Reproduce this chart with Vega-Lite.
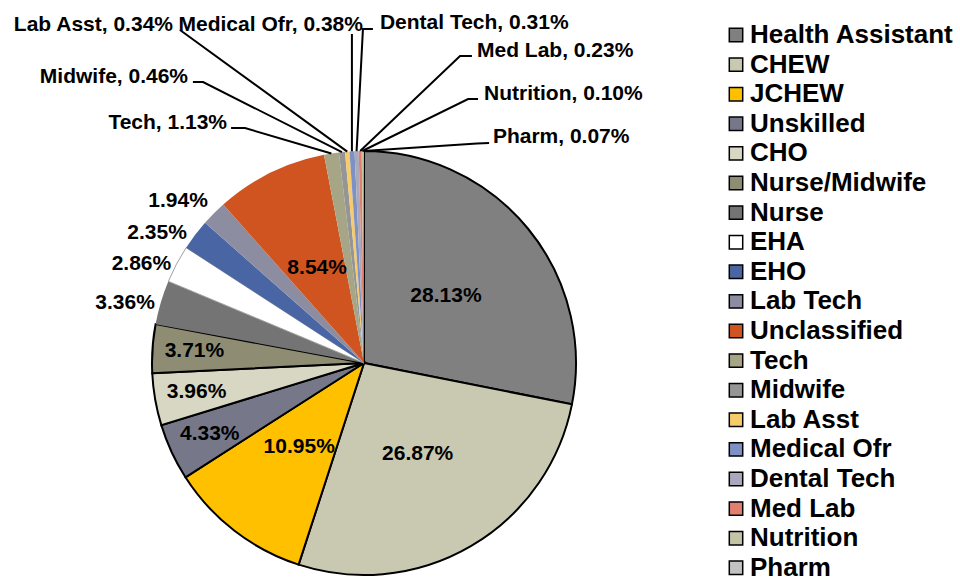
{
  "$schema": "https://vega.github.io/schema/vega-lite/v6.json",
  "width": 424,
  "height": 424,
  "autosize": {"type": "none"},
  "padding": {"left": 152, "top": 151, "right": 384, "bottom": 5},
  "background": "white",
  "config": {"view": {"stroke": null}, "font": "Liberation Sans"},
  "datasets": {
    "jobs": [
      {"idx": 1, "job": "Health Assistant", "share": 0.2813},
      {"idx": 2, "job": "CHEW", "share": 0.2687},
      {"idx": 3, "job": "JCHEW", "share": 0.1095},
      {"idx": 4, "job": "Unskilled", "share": 0.0433},
      {"idx": 5, "job": "CHO", "share": 0.0396},
      {"idx": 6, "job": "Nurse/Midwife", "share": 0.0371},
      {"idx": 7, "job": "Nurse", "share": 0.0336},
      {"idx": 8, "job": "EHA", "share": 0.0286},
      {"idx": 9, "job": "EHO", "share": 0.0235},
      {"idx": 10, "job": "Lab Tech", "share": 0.0194},
      {"idx": 11, "job": "Unclassified", "share": 0.0854},
      {"idx": 12, "job": "Tech", "share": 0.0113},
      {"idx": 13, "job": "Midwife", "share": 0.0046},
      {"idx": 14, "job": "Lab Asst", "share": 0.0034},
      {"idx": 15, "job": "Medical Ofr", "share": 0.0038},
      {"idx": 16, "job": "Dental Tech", "share": 0.0031},
      {"idx": 17, "job": "Med Lab", "share": 0.0023},
      {"idx": 18, "job": "Nutrition", "share": 0.0010},
      {"idx": 19, "job": "Pharm", "share": 0.0007}
    ],
    "outer": [
      {"job": "Nurse", "text": "3.36%", "u": -1.127, "v": 0.283},
      {"job": "EHA", "text": "2.86%", "u": -1.050, "v": 0.465},
      {"job": "EHO", "text": "2.35%", "u": -0.976, "v": 0.613},
      {"job": "Lab Tech", "text": "1.94%", "u": -0.877, "v": 0.764}
    ],
    "callouts": [
      {"job": "Lab Asst", "text": "Lab Asst, 0.34%", "u": -0.901, "v": 1.566},
      {"job": "Medical Ofr", "text": "Medical Ofr, 0.38%", "u": -0.005, "v": 1.566},
      {"job": "Midwife", "text": "Midwife, 0.46%", "u": -0.830, "v": 1.321},
      {"job": "Tech", "text": "Tech, 1.13%", "u": -0.646, "v": 1.104},
      {"job": "Dental Tech", "text": "Dental Tech, 0.31%", "u": 0.075, "v": 1.575},
      {"job": "Med Lab", "text": "Med Lab, 0.23%", "u": 0.533, "v": 1.443},
      {"job": "Nutrition", "text": "Nutrition, 0.10%", "u": 0.566, "v": 1.241},
      {"job": "Pharm", "text": "Pharm, 0.07%", "u": 0.608, "v": 1.038}
    ],
    "leaders": [
      {"job": "Lab Asst", "pt": 1, "u": -0.868, "v": 1.571},
      {"job": "Lab Asst", "pt": 2, "u": -0.079, "v": 0.997},
      {"job": "Medical Ofr", "pt": 1, "u": -0.057, "v": 1.552},
      {"job": "Medical Ofr", "pt": 2, "u": -0.057, "v": 0.998},
      {"job": "Dental Tech", "pt": 1, "u": 0.042, "v": 1.575},
      {"job": "Dental Tech", "pt": 2, "u": -0.005, "v": 1.575},
      {"job": "Dental Tech", "pt": 3, "u": -0.035, "v": 0.999},
      {"job": "Med Lab", "pt": 1, "u": 0.509, "v": 1.448},
      {"job": "Med Lab", "pt": 2, "u": 0.453, "v": 1.448},
      {"job": "Med Lab", "pt": 3, "u": -0.018, "v": 1.0},
      {"job": "Nutrition", "pt": 1, "u": 0.538, "v": 1.245},
      {"job": "Nutrition", "pt": 2, "u": 0.491, "v": 1.245},
      {"job": "Nutrition", "pt": 3, "u": -0.008, "v": 1.0},
      {"job": "Pharm", "pt": 1, "u": 0.590, "v": 1.038},
      {"job": "Pharm", "pt": 2, "u": 0.533, "v": 1.035},
      {"job": "Pharm", "pt": 3, "u": -0.002, "v": 1.0},
      {"job": "Midwife", "pt": 1, "u": -0.807, "v": 1.325},
      {"job": "Midwife", "pt": 2, "u": -0.759, "v": 1.325},
      {"job": "Midwife", "pt": 3, "u": -0.104, "v": 0.995},
      {"job": "Tech", "pt": 1, "u": -0.627, "v": 1.108},
      {"job": "Tech", "pt": 2, "u": -0.561, "v": 1.108},
      {"job": "Tech", "pt": 3, "u": -0.154, "v": 0.988}
    ]
  },
  "layer": [
    {
      "data": {"name": "jobs"},
      "mark": {"type": "arc", "stroke": "black"},
      "encoding": {
        "theta": {"field": "share", "type": "quantitative", "stack": true},
        "order": {"field": "idx", "type": "quantitative"},
        "color": {
          "field": "job",
          "type": "nominal",
          "sort": null,
          "scale": {
            "domain": ["Health Assistant", "CHEW", "JCHEW", "Unskilled", "CHO", "Nurse/Midwife", "Nurse", "EHA", "EHO", "Lab Tech", "Unclassified", "Tech", "Midwife", "Lab Asst", "Medical Ofr", "Dental Tech", "Med Lab", "Nutrition", "Pharm"],
            "range": ["#808080", "#C9C9B1", "#FFC000", "#767889", "#D7D7C4", "#8E8D74", "#747474", "#FFFFFF", "#4A65A3", "#8C8DA0", "#D05420", "#A6A686", "#959595", "#F7CA6A", "#7E91C4", "#A8A9BA", "#E27F6F", "#C3C3A6", "#C2C2C2"]
          },
          "legend": {
            "orient": "none",
            "legendX": 571,
            "legendY": -129,
            "title": null,
            "symbolType": "square",
            "symbolSize": 180,
            "symbolOpacity": 1,
            "symbolStrokeWidth": 1.5,
            "labelFont": "Liberation Sans",
            "labelFontWeight": "bold",
            "labelFontSize": 26,
            "labelColor": "black",
            "labelLimit": 300,
            "labelOffset": 1,
            "rowPadding": 3.6,
            "padding": 0,
            "encode": {
              "symbols": {
                "update": {
                  "stroke": {"signal": "indexof(['Health Assistant','CHEW','JCHEW','Unskilled','CHO','Nurse/Midwife'], datum.value) >= 0 ? 'black' : (datum.value == 'EHA' ? '#9a9a9a' : 'transparent')"}
                }
              }
            }
          }
        },
        "stroke": {"condition": {"test": "datum.idx == 8", "value": "#a0a0a0"}, "value": "black"},
        "strokeWidth": {"condition": [{"test": "datum.idx <= 6", "value": 2}, {"test": "datum.idx == 8", "value": 1}], "value": 0}
      }
    },
    {
      "data": {"name": "jobs"},
      "mark": {"type": "text", "radius": 106, "font": "Liberation Sans", "fontWeight": "bold", "fontSize": 21, "color": "black", "baseline": "middle"},
      "encoding": {
        "theta": {"field": "share", "type": "quantitative", "stack": true},
        "order": {"field": "idx", "type": "quantitative"},
        "detail": {"field": "job", "type": "nominal"},
        "text": {"field": "share", "type": "quantitative", "format": ".2%"},
        "opacity": {"condition": {"test": "indexof([1,2,3,11], datum.idx) >= 0", "value": 1}, "value": 0}
      }
    },
    {
      "data": {"name": "jobs"},
      "mark": {"type": "text", "radius": 170, "font": "Liberation Sans", "fontWeight": "bold", "fontSize": 21, "color": "black", "baseline": "middle"},
      "encoding": {
        "theta": {"field": "share", "type": "quantitative", "stack": true},
        "order": {"field": "idx", "type": "quantitative"},
        "detail": {"field": "job", "type": "nominal"},
        "text": {"field": "share", "type": "quantitative", "format": ".2%"},
        "opacity": {"condition": {"test": "indexof([4,5,6], datum.idx) >= 0", "value": 1}, "value": 0}
      }
    },
    {
      "data": {"name": "outer"},
      "mark": {"type": "text", "font": "Liberation Sans", "fontWeight": "bold", "fontSize": 21, "color": "black", "baseline": "middle", "align": "center"},
      "encoding": {
        "x": {"field": "u", "type": "quantitative", "scale": {"domain": [-1, 1], "nice": false, "zero": false}, "axis": null},
        "y": {"field": "v", "type": "quantitative", "scale": {"domain": [-1, 1], "nice": false, "zero": false}, "axis": null},
        "text": {"field": "text", "type": "nominal"}
      }
    },
    {
      "data": {"name": "leaders"},
      "mark": {"type": "line", "color": "black", "strokeWidth": 2},
      "encoding": {
        "x": {"field": "u", "type": "quantitative", "scale": {"domain": [-1, 1], "nice": false, "zero": false}, "axis": null},
        "y": {"field": "v", "type": "quantitative", "scale": {"domain": [-1, 1], "nice": false, "zero": false}, "axis": null},
        "detail": {"field": "job", "type": "nominal"},
        "order": {"field": "pt", "type": "quantitative"}
      }
    },
    {
      "data": {"name": "callouts"},
      "transform": [{"filter": "datum.u < 0"}],
      "mark": {"type": "text", "font": "Liberation Sans", "fontWeight": "bold", "fontSize": 21, "color": "black", "baseline": "alphabetic", "align": "right"},
      "encoding": {
        "x": {"field": "u", "type": "quantitative", "scale": {"domain": [-1, 1], "nice": false, "zero": false}, "axis": null},
        "y": {"field": "v", "type": "quantitative", "scale": {"domain": [-1, 1], "nice": false, "zero": false}, "axis": null},
        "text": {"field": "text", "type": "nominal"}
      }
    },
    {
      "data": {"name": "callouts"},
      "transform": [{"filter": "datum.u >= 0"}],
      "mark": {"type": "text", "font": "Liberation Sans", "fontWeight": "bold", "fontSize": 21, "color": "black", "baseline": "alphabetic", "align": "left"},
      "encoding": {
        "x": {"field": "u", "type": "quantitative", "scale": {"domain": [-1, 1], "nice": false, "zero": false}, "axis": null},
        "y": {"field": "v", "type": "quantitative", "scale": {"domain": [-1, 1], "nice": false, "zero": false}, "axis": null},
        "text": {"field": "text", "type": "nominal"}
      }
    }
  ]
}
